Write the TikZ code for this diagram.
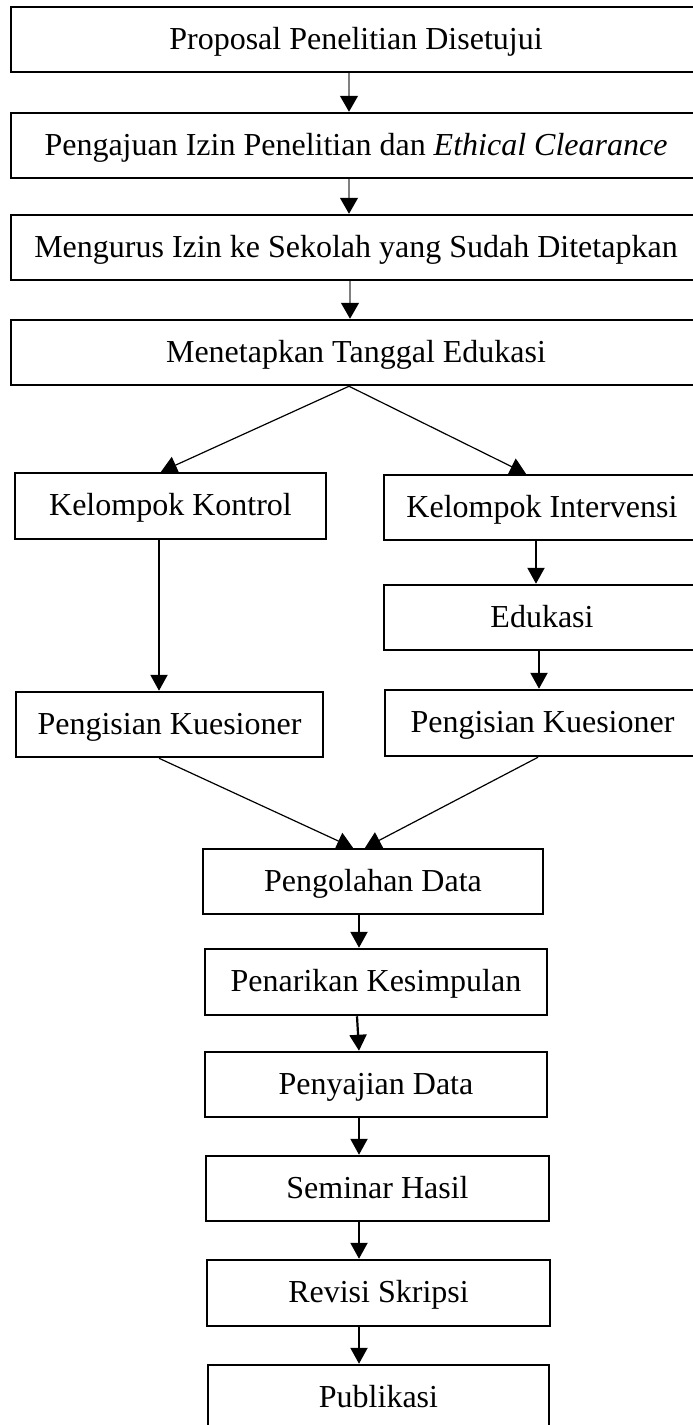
\documentclass[tikz,border=0pt]{standalone}
\usepackage{fontspec}
\setmainfont{Liberation Serif}
\usetikzlibrary{arrows.meta}

\begin{document}
\begin{tikzpicture}[x=1pt, y=-1pt,
    stage/.style ={draw, line width=2.5pt, inner sep=0pt, minimum height=65pt,
                   text height=24pt, text depth=5pt,
                   font=\fontsize{32}{38}\selectfont},
    thinflow/.style ={draw=gray, line width=1.2pt, -{Triangle[length=16pt,width=18pt,color=black]}},
    slantflow/.style ={line width=1.2pt, -{Triangle[length=16pt,width=18pt]}},
    flow/.style ={line width=2.2pt, -{Triangle[length=16pt,width=17pt]}}]
   \useasboundingbox (0,0) rectangle (693,1425);
   % top column
   \node[stage, minimum width=690pt] (prop) at (356,39.5) {Proposal Penelitian Disetujui};
   \node[stage, minimum width=690pt] (izin) at (356,145.5) {Pengajuan Izin Penelitian dan \textit{Ethical Clearance}};
   \node[stage, minimum width=690pt] (urus) at (356,247.5) {Mengurus Izin ke Sekolah yang Sudah Ditetapkan};
   \node[stage, minimum width=690pt] (tgl) at (356,352.5) {Menetapkan Tanggal Edukasi};
   % two groups
   \node[stage, minimum width=311pt, minimum height=66pt] (kontrol) at (170.5,506) {Kelompok Kontrol};
   \node[stage, minimum width=316pt] (interv) at (542,507.5) {Kelompok Intervensi};
   \node[stage, minimum width=316pt] (edukasi) at (542,617.5) {Edukasi};
   \node[stage, minimum width=307pt] (isiA) at (169.5,724.5) {Pengisian Kuesioner};
   \node[stage, minimum width=315pt, minimum height=66pt] (isiB) at (542.5,723) {Pengisian Kuesioner};
   % bottom column
   \node[stage, minimum width=340pt] (olah) at (373,881.5) {Pengolahan Data};
   \node[stage, minimum width=342pt, minimum height=66pt] (tarik) at (376,982) {Penarikan Kesimpulan};
   \node[stage, minimum width=342pt] (saji) at (376,1084.5) {Penyajian Data};
   \node[stage, minimum width=343pt] (seminar) at (377.5,1188.5) {Seminar Hasil};
   \node[stage, minimum width=343pt, minimum height=66pt] (revisi) at (378.5,1293) {Revisi Skripsi};
   \node[stage, minimum width=341pt] (publ) at (378.5,1397.5) {Publikasi};

   \draw[thinflow] ([xshift=-7pt]prop.south) to ([xshift=-7pt]izin.north);
   \draw[thinflow] ([xshift=-7pt]izin.south) to ([xshift=-7pt]urus.north);
   \draw[thinflow] ([xshift=-6pt]urus.south) to ([xshift=-6pt]tgl.north);
   \draw[slantflow] ([xshift=-7pt]tgl.south) to ([xshift=-9.5pt]kontrol.north);
   \draw[slantflow] ([xshift=-7pt]tgl.south) to ([xshift=-16pt]interv.north);
   \draw[flow] ([xshift=-11.5pt]kontrol.south) to ([xshift=-10.5pt]isiA.north);
   \draw[flow] ([xshift=-6pt]interv.south) to ([xshift=-6pt]edukasi.north);
   \draw[flow] ([xshift=-3pt]edukasi.south) to ([xshift=-3.5pt]isiB.north);
   \draw[slantflow] ([xshift=-10.5pt]isiA.south) to ([xshift=-20pt]olah.north);
   \draw[slantflow] ([xshift=-4.5pt]isiB.south) to ([xshift=-8pt]olah.north);
   \draw[flow] ([xshift=-14pt]olah.south) to ([xshift=-17pt]tarik.north);
   \draw[flow] ([xshift=-19pt]tarik.south) to ([xshift=-17pt]saji.north);
   \draw[flow] ([xshift=-17pt]saji.south) to ([xshift=-18.5pt]seminar.north);
   \draw[flow] ([xshift=-18.5pt]seminar.south) to ([xshift=-19.5pt]revisi.north);
   \draw[flow] ([xshift=-19.5pt]revisi.south) to ([xshift=-19.5pt]publ.north);
 \end{tikzpicture}
\end{document}
